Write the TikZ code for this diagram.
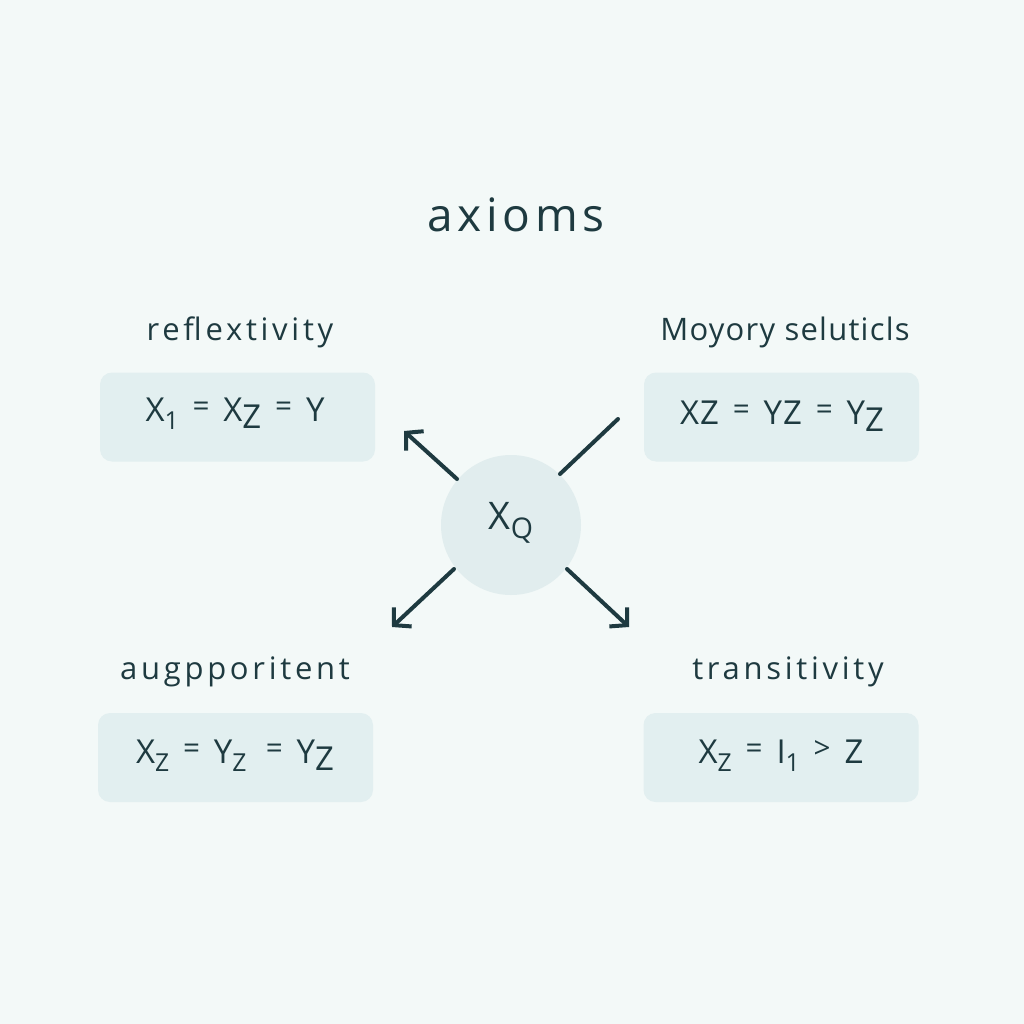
\documentclass[tikz,border=0pt]{standalone}
\usepackage{fontspec}
\setmainfont{Open Sans}
\usetikzlibrary{arrows.meta}
\definecolor{bgc}{HTML}{F3F9F8}
\definecolor{boxc}{HTML}{E2EFF0}
\definecolor{circc}{HTML}{E1EDEE}
\definecolor{ink}{HTML}{1E3A40}
\newcommand{\lowr}[1]{\raisebox{-0.22em}{#1}}
\newcommand{\lows}[1]{\raisebox{-0.25em}{\scalebox{0.75}{#1}}}
\newcommand{\highr}[1]{\hspace{0.42em}\raisebox{0.15em}{\scalebox{0.9}{#1}}\hspace{0.42em}}
\tikzset{
  eqbox/.style={draw=none, fill=boxc, rounded corners=12pt, minimum width=275pt, minimum height=89pt, inner sep=0pt},
  eqtext/.style={text=ink, font=\fontsize{33}{38}\selectfont\addfontfeatures{LetterSpace=3}},
  ttl/.style={text=ink, font=\fontsize{31}{36}\selectfont\addfontfeatures{LetterSpace=12}},
  ttlnarrow/.style={text=ink, font=\fontsize{31}{36}\selectfont\addfontfeatures{LetterSpace=4}},
  conn/.style={ink, line width=4pt, line cap=round},
  arr/.style={conn, -{Straight Barb[length=12pt, width=26pt, line width=4pt]}}
}
\begin{document}
\begin{tikzpicture}[x=1pt,y=-1pt]
\fill[bgc] (0,0) rectangle (1024,1024);
\useasboundingbox (0,0) rectangle (1024,1024);

\node[text=ink, font=\fontsize{46}{52}\selectfont\addfontfeatures{LetterSpace=10}] (ttlmain) at (516,215) {axioms};

\node[eqbox] (b1) at (237.5,417) {};
\node[eqbox] (b2) at (781.5,417) {};
\node[eqbox] (b3) at (235.5,757.5) {};
\node[eqbox] (b4) at (781,757.5) {};

\node[ttl] (t1) at (240,332) {reflextivity};
\node[ttlnarrow] (t2) at (785,332) {Moyory seluticls};
\node[ttl] (t3) at (235,672) {augpporitent};
\node[ttl] (t4) at (788,672) {transitivity};

\node[eqtext] (e1) at (235,414) {X\lows{1}\highr{=}X\lowr{Z}\highr{=}Y};
\node[eqtext] (e2) at (782,416) {XZ\highr{=}YZ\highr{=}Y\lowr{Z}};
\node[eqtext] (e3) at (235,756) {X\lows{Z}\highr{=}Y\lows{Z}\,\highr{=}Y\lowr{Z}};
\node[eqtext] (e4) at (781,756) {X\lows{Z}\highr{=}I\lows{1}\highr{>}Z};

\node[circle, fill=circc, minimum size=140pt, inner sep=0pt] (c) at (511,525) {};
\node[text=ink, font=\fontsize{38}{42}\selectfont] (ct) at (511,523) {X\lows{Q}};

\coordinate (a1) at (404,431);
\coordinate (a2) at (618,419);
\coordinate (a3) at (392,627);
\coordinate (a4) at (629,627);
\draw[arr] (457,479) -- (a1);
\draw[conn] (560,474) -- (a2);
\draw[arr] (454,569) -- (a3);
\draw[arr] (567,569) -- (a4);
\end{tikzpicture}
\end{document}
